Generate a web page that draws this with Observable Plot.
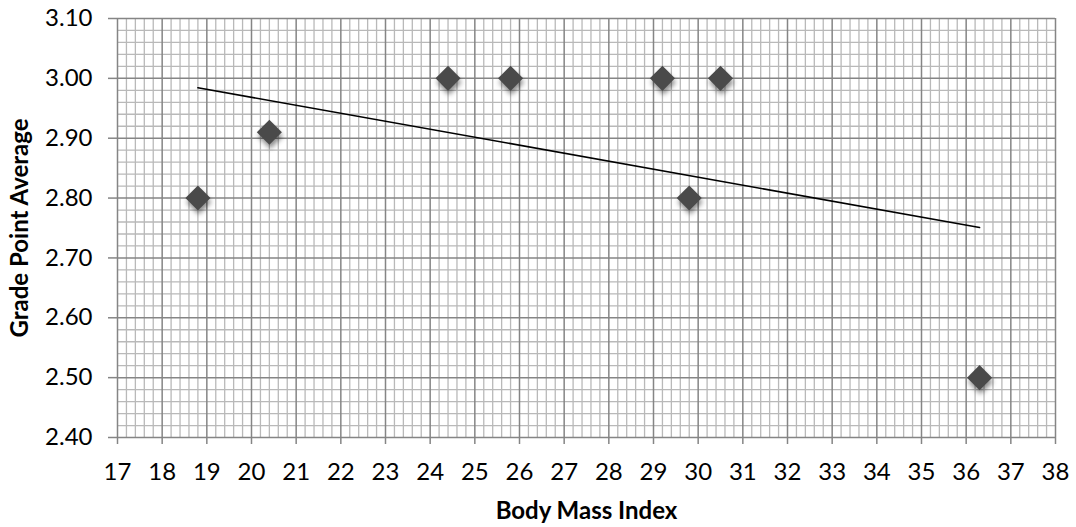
<!DOCTYPE html>
<html><head><meta charset="utf-8">
<script src="https://cdn.jsdelivr.net/npm/d3@7"></script>
<script src="https://cdn.jsdelivr.net/npm/@observablehq/plot@0.6"></script>
<style>
body{margin:0;background:#fff;}
#chart svg [aria-label="dot"] path{filter: drop-shadow(1px 4px 2.5px rgba(0,0,0,0.45));}
</style></head><body><div id="chart"></div>
<script>
const bmi = [18.8, 20.4, 24.4, 25.8, 29.2, 30.5, 29.8, 36.3];
const gpa = [2.80, 2.91, 3.00, 3.00, 3.00, 3.00, 2.80, 2.50];
const xTicks = [17,18,19,20,21,22,23,24,25,26,27,28,29,30,31,32,33,34,35,36,37,38];
const yTicks = [2.40,2.50,2.60,2.70,2.80,2.90,3.00,3.10];
const xSub = [0.2,0.4,0.6,0.8];
const ySub = [0.02,0.04,0.06,0.08];
const xTitle = "Body Mass Index";
const yTitle = "Grade Point Average";

const xMinor = xTicks.slice(0,-1).flatMap(t => xSub.map(f => t + f));
const yMinor = yTicks.slice(0,-1).flatMap(t => ySub.map(f => t + f));
const data = bmi.map((x,i) => ({bmi: x, gpa: gpa[i]}));

const minorColor = "#b9b9b9", majorColor = "#858585";

const chart = Plot.plot({
  width: 1076, height: 527,
  marginLeft: 117, marginRight: 21, marginTop: 18, marginBottom: 90,
  style: {fontFamily: "Lato", fontSize: "24px", color: "black", background: "white"},
  x: {domain: [17, 38]},
  y: {domain: [2.4, 3.1]},
  marks: [
    Plot.ruleX(xMinor, {stroke: minorColor, strokeWidth: 1.3}),
    Plot.ruleY(yMinor, {stroke: minorColor, strokeWidth: 1.3}),
    Plot.ruleX(xTicks, {stroke: majorColor, strokeWidth: 1.5}),
    Plot.ruleY(yTicks, {stroke: majorColor, strokeWidth: 1.5}),
    Plot.axisX({ticks: xTicks, tickSize: 7, tickPadding: 18, stroke: majorColor, strokeWidth: 1.5, fontSize: 24, label: null, tickFormat: d3.format("d")}),
    Plot.axisY({ticks: yTicks, tickSize: 9, tickPadding: 16, stroke: majorColor, strokeWidth: 1.5, fontSize: 24, label: null, tickFormat: d3.format(".2f")}),
    Plot.linearRegressionY(data, {x: "bmi", y: "gpa", stroke: "black", strokeWidth: 1.6, ci: 0}),
    Plot.dot(data, {x: "bmi", y: "gpa", symbol: "diamond2", r: 11.3, fill: "#4a4a4a", stroke: "none"}),
    Plot.text([xTitle], {text: d => d, frameAnchor: "bottom", dy: 74, lineAnchor: "middle", textAnchor: "middle", fontWeight: "bold", fontSize: 24}),
    Plot.text([yTitle], {text: d => d, frameAnchor: "left", dx: -97, rotate: -90, lineAnchor: "middle", textAnchor: "middle", fontWeight: "bold", fontSize: 24})
  ]
});
document.getElementById("chart").append(chart);
</script></body></html>
